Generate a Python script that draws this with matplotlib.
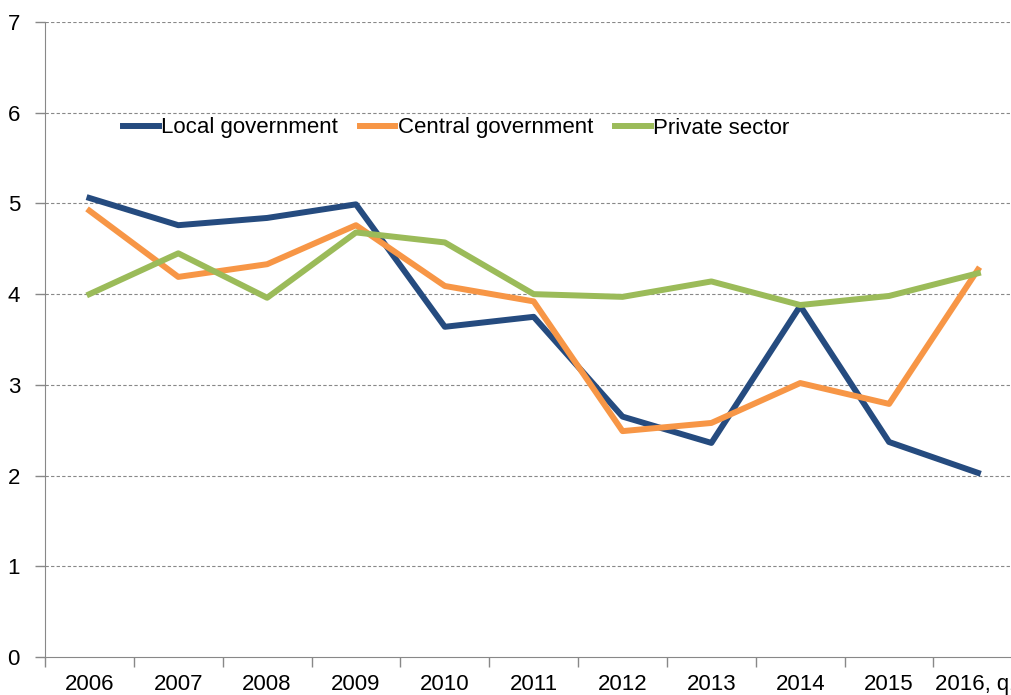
import numpy as np
import matplotlib.pyplot as plt
from matplotlib.ticker import FixedLocator

plt.rcParams['font.family'] = ['Liberation Sans', 'DejaVu Sans']

years = ['2006', '2007', '2008', '2009', '2010', '2011', '2012',
         '2013', '2014', '2015', '2016, q1']
local_gov = [5.06, 4.76, 4.84, 4.99, 3.64, 3.75, 2.65, 2.36, 3.87, 2.37, 2.03]
central_gov = [4.92, 4.19, 4.33, 4.76, 4.09, 3.92, 2.49, 2.58, 3.02, 2.79, 4.27]
private_sector = [4.00, 4.45, 3.96, 4.68, 4.57, 4.00, 3.97, 4.14, 3.88, 3.98, 4.23]

fig = plt.figure(figsize=(10.11, 6.95), dpi=100)
ax = fig.add_axes([45 / 1011, 38 / 695, 1 - 45 / 1011, 635 / 695])

x = np.arange(len(years))
ax.plot(x, local_gov, color='#254B7F', lw=4.3, label='Local government')
ax.plot(x, central_gov, color='#F79646', lw=4.3, label='Central government')
ax.plot(x, private_sector, color='#9BBB59', lw=4.3, label='Private sector')

ax.set_ylim(0, 7)
ax.set_xlim(-0.5, (1011 - 45) / 88.85 - 0.5)
ax.set_yticks(range(0, 8))
ax.set_xticks(x)
ax.set_xticklabels(years)
ax.xaxis.set_minor_locator(FixedLocator(np.arange(-0.5, len(years), 1.0)))

# labels sit in the middle of each category, tick marks on the boundaries
ax.tick_params(axis='x', which='major', length=0, pad=12.5, labelsize=16)
ax.tick_params(axis='x', which='minor', length=7, color='#888888', width=1)
ax.tick_params(axis='y', length=7, color='#888888', width=1, pad=11, labelsize=16)

for y in range(1, 8):
    ax.axhline(y, color='#888888', lw=0.8, ls=(0, (3, 2)), zorder=0)

ax.spines['top'].set_visible(False)
ax.spines['right'].set_visible(False)
ax.spines['left'].set_color('#888888')
ax.spines['bottom'].set_color('#888888')

fig.legend(loc='center left', bbox_to_anchor=(123 / 1011, 1 - 128 / 695), ncol=3,
           frameon=False, fontsize=16, handlelength=1.6, handletextpad=0.1,
           columnspacing=1.0, borderpad=0, borderaxespad=0)

fig.savefig('out.png', dpi=100)
